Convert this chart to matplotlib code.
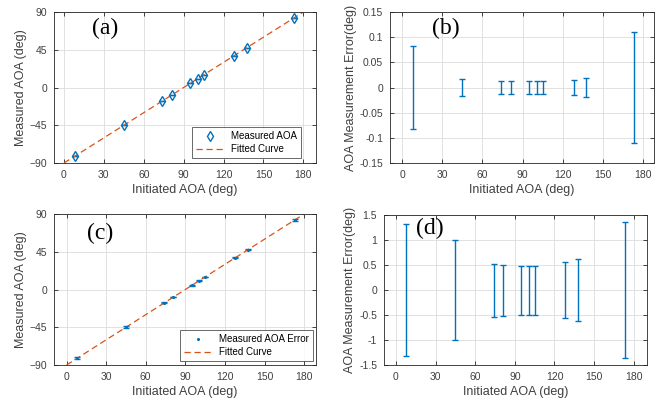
import matplotlib
matplotlib.use('Agg')
import matplotlib.pyplot as plt
from matplotlib.lines import Line2D
import numpy as np

# angles of arrival (deg)
initiated = [8, 45, 74, 81, 95, 100.5, 105, 128, 137.5, 173]
measured = [-82, -45, -16, -9, 5, 10.5, 15, 38, 47.5, 83]
err_small = [0.082, 0.017, 0.012, 0.012, 0.012, 0.012, 0.012, 0.015, 0.018, 0.11]
err_large = [1.32, 1.0, 0.53, 0.51, 0.49, 0.49, 0.49, 0.56, 0.62, 1.36]
fit_x = [0, 180]
fit_y = [-90, 90]

xticks = [0, 30, 60, 90, 120, 150, 180]
yticks_aoa = [-90, -45, 0, 45, 90]
yticks_b = [-0.15, -0.1, -0.05, 0, 0.05, 0.1, 0.15]
ylabels_b = ['-0.15', '-0.1', '-0.05', '0', '0.05', '0.1', '0.15']
yticks_d = [-1.5, -1, -0.5, 0, 0.5, 1, 1.5]
ylabels_d = ['-1.5', '-1', '-0.5', '0', '0.5', '1', '1.5']

blue = '#0072BD'
orange = '#D95319'
txt = '#404040'

plt.rcParams['font.family'] = ['Liberation Sans', 'DejaVu Sans']
W, H = 658, 398
fig = plt.figure(figsize=(W / 100, H / 100), dpi=100)


def make_ax(l, r, t, b):
    ax = fig.add_axes([l / W, 1 - b / H, (r - l) / W, (b - t) / H])
    ax.grid(True, color='#dcdcdc', lw=0.6)
    ax.set_axisbelow(True)
    ax.tick_params(direction='in', top=True, right=True, labelsize=7.5,
                   colors='#262626', labelcolor=txt, length=3, width=0.6,
                   pad=5)
    for s in ax.spines.values():
        s.set_color('#262626')
        s.set_linewidth(0.6)
    ax.set_xticks(xticks)
    ax.set_xlabel('Initiated AOA (deg)', fontsize=9, color=txt, labelpad=3)
    return ax


def panel_label(ax, s, x, y):
    ax.text(x, y, s, transform=ax.transAxes, fontsize=17,
            family='Liberation Serif', va='top', ha='left', color='black')


def legend(ax, handles, labels, rgap, bgap, w, h):
    leg = ax.legend(handles, labels, loc='lower right',
                    bbox_to_anchor=(1 - rgap / w, bgap / h), borderaxespad=0,
                    fontsize=7, frameon=True, fancybox=False,
                    edgecolor='#262626', borderpad=0.4, handlelength=2.8,
                    labelspacing=0.3)
    leg.get_frame().set_linewidth(0.6)


# (a)
ax = make_ax(54, 316, 12, 163)
pts = ax.errorbar(initiated, measured, yerr=err_small, fmt='d', mfc='none',
                  mec=blue, ecolor=blue, ms=5, mew=1, elinewidth=1,
                  capsize=2.5, capthick=1)
fit, = ax.plot(fit_x, fit_y, '--', color=orange, lw=0.9, dashes=(5, 3))
ax.set_xlim(-7.5, 189.5)
ax.set_ylim(-90, 90)
ax.set_yticks(yticks_aoa)
ax.set_ylabel('Measured AOA (deg)', fontsize=9, color=txt, labelpad=2)
panel_label(ax, '(a)', 0.145, 0.96)
h_a = Line2D([], [], ls='none', marker='d', mfc='none', mec=blue, ms=5, mew=1)
legend(ax, [h_a, fit], ['Measured AOA', 'Fitted Curve'], 15, 5, 262, 151)

# (b)
ax = make_ax(390, 654, 12, 163)
ax.errorbar(initiated, np.zeros(len(initiated)), yerr=err_small, fmt='none',
            ecolor=blue, elinewidth=1, capsize=2.5, capthick=1)
ax.set_xlim(-9, 188)
ax.set_ylim(-0.15, 0.15)
ax.set_yticks(yticks_b)
ax.set_yticklabels(ylabels_b)
ax.set_ylabel('AOA Measurement Error(deg)', fontsize=9, color=txt, labelpad=2)
panel_label(ax, '(b)', 0.16, 0.96)

# (c)
ax = make_ax(54, 316, 214, 365)
ax.errorbar(initiated, measured, yerr=err_large, fmt='.', color=blue, ms=2.5,
            elinewidth=1, capsize=2.5, capthick=1)
fit, = ax.plot(fit_x, fit_y, '--', color=orange, lw=0.9, dashes=(5, 3))
ax.set_xlim(-9.5, 189)
ax.set_ylim(-90, 90)
ax.set_yticks(yticks_aoa)
ax.set_ylabel('Measured AOA (deg)', fontsize=9, color=txt, labelpad=2)
panel_label(ax, '(c)', 0.126, 0.94)
h_c = Line2D([], [], ls='none', marker='.', color=blue, ms=2.5)
legend(ax, [h_c, fit], ['Measured AOA Error', 'Fitted Curve'], 3, 4, 262, 151)

# (d)
ax = make_ax(384, 647, 215, 365)
ax.errorbar(initiated, np.zeros(len(initiated)), yerr=err_large, fmt='none',
            ecolor=blue, elinewidth=1, capsize=2.5, capthick=1)
ax.set_xlim(-9, 190)
ax.set_ylim(-1.5, 1.5)
ax.set_yticks(yticks_d)
ax.set_yticklabels(ylabels_d)
ax.set_ylabel('AOA Measurement Error(deg)', fontsize=9, color=txt, labelpad=2)
panel_label(ax, '(d)', 0.12, 0.98)

fig.savefig('out.png', dpi=100)
